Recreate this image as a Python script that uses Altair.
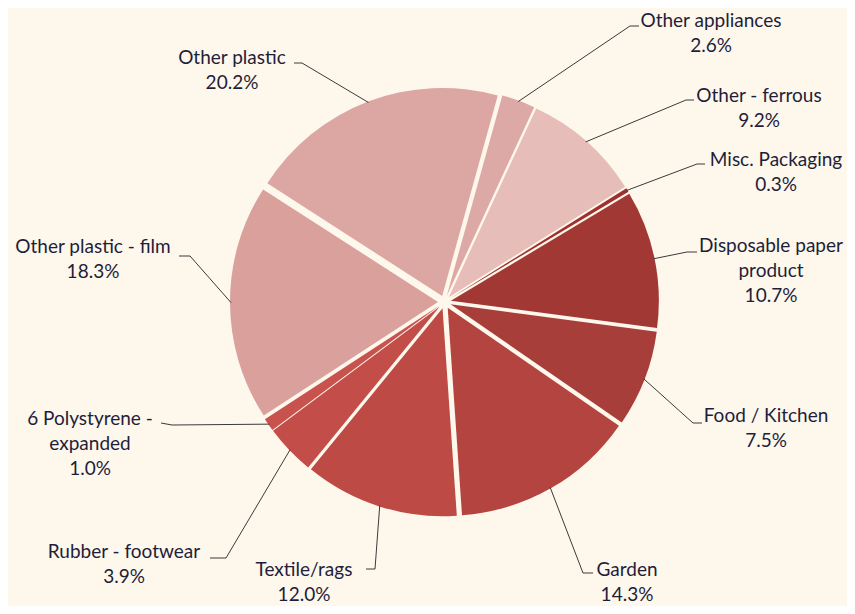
import math
import pandas as pd
import altair as alt

# ---- data ----
categories = [
    "Other appliances", "Other - ferrous", "Misc. Packaging",
    "Disposable paper product", "Food / Kitchen", "Garden", "Textile/rags",
    "Rubber - footwear", "6 Polystyrene - expanded", "Other plastic - film",
    "Other plastic",
]
shares = [2.6, 9.2, 0.3, 10.7, 7.5, 14.3, 12.0, 3.9, 1.0, 18.3, 20.2]
label_texts = [
    "Other appliances", "Other - ferrous", "Misc. Packaging",
    "Disposable paper\nproduct", "Food / Kitchen", "Garden", "Textile/rags",
    "Rubber - footwear", "6 Polystyrene -\nexpanded", "Other plastic - film",
    "Other plastic",
]

# ---- styles ----
slice_colors = [
    "#DDA9A6", "#E6BDB9", "#9E302D", "#A23833", "#A83E3A", "#B3443F",
    "#BD4A45", "#C34E49", "#C8534E", "#D9A09C", "#DCA6A3",
]
BG = "#FEF7EC"
TEXT_COLOR = "#1E1E3A"
LINE_COLOR = "#3A3A3A"
FONT = "Lato"
FS = 19
LH = 25

# ---- layout (page pixels) ----
OFF = 8
W, H = 839, 598
CX, CY = 444.5 - OFF, 302 - OFF
R = 208
EXPLODE = 6.5
START_DEG = 15.5

# label anchor: centre x of the text block and centre y of its first line
label_cx = [711, 759, 776, 771, 766, 627, 304, 124, 90, 93, 232]
label_c1 = [22, 97, 161, 247, 417, 571, 571, 553, 420, 248, 59]
# leader line: elbow and end points
elbow = [(630, 26), (686, 100), (697, 164), (687, 252), (693, 423),
         (583, 573), (375, 569), (226, 558), (172, 425), (190, 256), (302, 63)]
lend = [(639, 26), (694, 100), (705, 164), (697, 252), (702, 423),
        (593, 573), (366, 569), (210, 558), (161, 423), (179, 256), (294, 63)]

rows, line_rows, text_rows = [], [], []
cum = 0.0
for i, (cat, v) in enumerate(zip(categories, shares)):
    a0 = math.radians(START_DEG + cum / 100 * 360)
    cum += v
    a1 = math.radians(START_DEG + cum / 100 * 360)
    mid = (a0 + a1) / 2
    cx = CX + EXPLODE * math.sin(mid)
    cy = CY - EXPLODE * math.cos(mid)
    rows.append({"cat": cat, "a0": a0, "a1": a1, "cx": cx, "cy": cy, "i": i})
    sx = cx + (R - 1) * math.sin(mid)
    sy = cy - (R - 1) * math.cos(mid)
    pts = [(sx, sy), (elbow[i][0] - OFF, elbow[i][1] - OFF),
           (lend[i][0] - OFF, lend[i][1] - OFF)]
    for k, (px, py) in enumerate(pts):
        line_rows.append({"cat": cat, "k": k, "x": px, "y": py})
    text_rows.append({
        "cat": cat,
        "txt": f"{label_texts[i]}\n{v:.1f}%",
        "x": label_cx[i] - OFF,
        "y": label_c1[i] + 4.5 - round(0.79 * FS) - OFF,
    })

slices = pd.DataFrame(rows)
lines = pd.DataFrame(line_rows)
texts = pd.DataFrame(text_rows)

xs = alt.Scale(domain=[0, W], nice=False, zero=False)
ys = alt.Scale(domain=[0, H], nice=False, zero=False, reverse=True)

arcs = alt.Chart(slices).mark_arc(outerRadius=R, innerRadius=0).encode(
    x=alt.X("cx:Q", scale=xs, axis=None),
    y=alt.Y("cy:Q", scale=ys, axis=None),
    theta=alt.Theta("a0:Q", scale=None),
    theta2=alt.Theta2("a1:Q"),
    color=alt.Color("cat:N", scale=alt.Scale(domain=categories, range=slice_colors), legend=None),
)

leaders = alt.Chart(lines).mark_line(color=LINE_COLOR, strokeWidth=1).encode(
    x=alt.X("x:Q", scale=xs, axis=None),
    y=alt.Y("y:Q", scale=ys, axis=None),
    detail="cat:N",
    order="k:Q",
)

labels = alt.Chart(texts).mark_text(
    align="center", baseline="top", lineBreak="\n", lineHeight=LH,
    font=FONT, fontSize=FS, color=TEXT_COLOR,
).encode(
    x=alt.X("x:Q", scale=xs, axis=None),
    y=alt.Y("y:Q", scale=ys, axis=None),
    text="txt:N",
)

chart = alt.layer(arcs, leaders, labels).properties(
    width=W, height=H, background=BG, padding=0,
    autosize=alt.AutoSizeParams(type="none"),
).configure_view(stroke=None)

chart.save("out.html", embed_options={"renderer": "svg", "actions": False})
